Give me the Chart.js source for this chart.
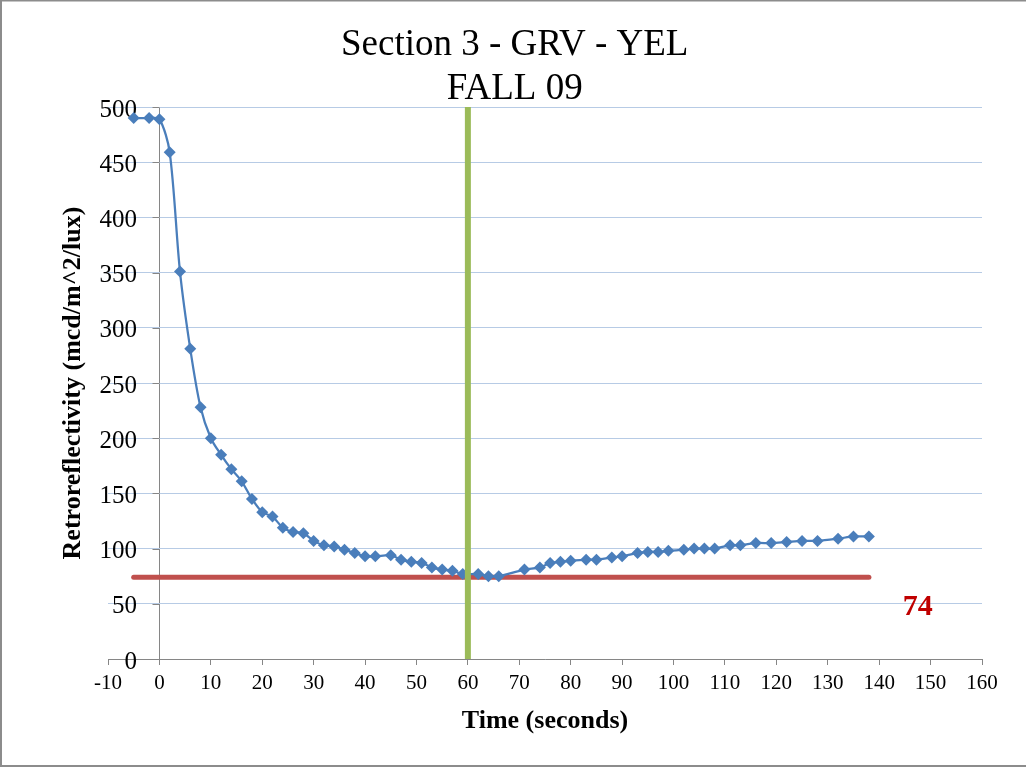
<!DOCTYPE html>
<html><head><meta charset="utf-8">
<style>html,body{margin:0;padding:0;background:#fff;overflow:hidden}#wrap{position:relative;width:1026px;height:767px}</style>
<script src="https://cdn.jsdelivr.net/npm/chart.js@4/dist/chart.umd.min.js"></script>
</head><body><div id="wrap"><canvas id="c" width="1026" height="767"></canvas></div>
<script>
const chartTitle = ['Section 3 - GRV - YEL', 'FALL 09'];
const xAxisTitle = 'Time (seconds)';
const yAxisTitle = 'Retroreflectivity (mcd/m^2/lux)';
const timeSeconds = [-5, -2, 0, 2, 4, 6, 8, 10, 12, 14, 16, 18, 20, 22, 24, 26, 28, 30, 32, 34, 36, 38, 40, 42, 45, 47, 49, 51, 53, 55, 57, 59, 62, 64, 66, 71, 74, 76, 78, 80, 83, 85, 88, 90, 93, 95, 97, 99, 102, 104, 106, 108, 111, 113, 116, 119, 122, 125, 128, 132, 135, 138];
const retroValues = [490, 490, 489, 459, 351, 281, 228, 200, 185, 172, 161, 145, 133, 129, 119, 115, 114, 107, 103, 102, 99, 96, 93, 93, 94, 90, 88, 87, 83, 81, 80, 77, 77, 75, 75, 81, 83, 87, 88, 89, 90, 90, 92, 93, 96, 97, 97, 98, 99, 100, 100, 100, 103, 103, 105, 105, 106, 107, 107, 109, 111, 111];
const thresholdValue = 74;
const thresholdTimes = [-5, 138];
const markerTime = 60;
const markerRange = [0, 500];
const thresholdLabel = '74';
const thresholdLabelPos = [147.5, 46.5];
const xRange = [-10, 160];
const xStep = 10;
const yRange = [0, 500];
const yStep = 50;

const serif = "'Liberation Serif', 'Times New Roman', serif";
const AXIS_GRAY = '#868686';

const chromePlugin = {
  id: 'chrome',
  afterLayout(chart) {
    // y tick labels sit inside the plot, right-aligned near the value axis
    const ys = chart.scales.y;
    ys.right = 137;
  },
  beforeDraw(chart) {
    const c = chart.ctx;
    c.save();
    c.fillStyle = '#fff';
    c.fillRect(0, 0, chart.width, chart.height);
    c.strokeStyle = '#8c8c8c';
    c.lineWidth = 2;
    c.beginPath();
    c.moveTo(1, 0); c.lineTo(1, 766);
    c.moveTo(0, 0.5); c.lineTo(1026, 0.5);
    c.moveTo(0, 766); c.lineTo(1026, 766);
    c.stroke();
    c.restore();
  },
  beforeDatasetsDraw(chart) {
    const c = chart.ctx, xs = chart.scales.x, ys = chart.scales.y;
    const ax = Math.round(xs.getPixelForValue(0)) + 0.5;
    c.save();
    c.strokeStyle = AXIS_GRAY;
    c.lineWidth = 1;
    c.beginPath();
    ys.ticks.forEach(t => {
      const py = Math.round(ys.getPixelForValue(t.value)) + 0.5;
      c.moveTo(ax - 7, py); c.lineTo(ax, py);
    });
    c.stroke();
    c.restore();
  },
  afterDatasetsDraw(chart) {
    const c = chart.ctx, xs = chart.scales.x, ys = chart.scales.y;
    c.save();
    c.font = "bold 30px " + serif;
    c.fillStyle = '#C00000';
    c.textAlign = 'center';
    c.textBaseline = 'middle';
    c.fillText(thresholdLabel, xs.getPixelForValue(thresholdLabelPos[0]), ys.getPixelForValue(thresholdLabelPos[1]));
    c.restore();
  }
};

new Chart(document.getElementById('c'), {
  type: 'scatter',
  data: {
    datasets: [
      {
        label: 'Marker',
        type: 'line',
        data: markerRange.map(v => ({x: markerTime, y: v})),
        borderColor: '#9BBB59',
        borderWidth: 6,
        pointRadius: 0,
        showLine: true,
        order: 0
      },
      {
        label: 'Retroreflectivity',
        type: 'line',
        data: timeSeconds.map((t, i) => ({x: t, y: retroValues[i]})),
        borderColor: '#4A7EBB',
        borderWidth: 2.25,
        backgroundColor: '#4A7EBB',
        pointStyle: 'rectRot',
        pointRadius: 6,
        pointBackgroundColor: '#4A7EBB',
        pointBorderColor: '#4A7EBB',
        pointBorderWidth: 0,
        tension: 0.3,
        showLine: true,
        order: 1
      },
      {
        label: 'Threshold',
        type: 'line',
        data: thresholdTimes.map(t => ({x: t, y: thresholdValue})),
        borderColor: '#C0504D',
        borderWidth: 5,
        borderCapStyle: 'round',
        pointRadius: 0,
        showLine: true,
        order: 2
      }
    ]
  },
  options: {
    responsive: false,
    devicePixelRatio: 1,
    animation: false,
    layout: { padding: { left: 47.4, right: 44, top: 0, bottom: 30.4 } },
    plugins: {
      legend: { display: false },
      tooltip: { enabled: false },
      title: {
        display: true,
        text: chartTitle,
        color: '#000',
        font: { family: serif, size: 37, weight: 'normal', lineHeight: 1.19 },
        padding: { top: 23, bottom: -4 }
      }
    },
    scales: {
      x: {
        type: 'linear',
        min: xRange[0], max: xRange[1],
        afterFit(s) { s.height = 77.6; },
        ticks: { stepSize: xStep, color: '#000', font: { family: serif, size: 21 }, padding: 6, maxRotation: 0 },
        grid: {
          color: ctx => (ctx.tick && ctx.tick.value === 0) ? AXIS_GRAY : 'rgba(0,0,0,0)',
          tickColor: AXIS_GRAY,
          tickLength: 6,
          lineWidth: 1
        },
        border: { display: true, color: AXIS_GRAY, width: 1 },
        title: { display: true, text: xAxisTitle, color: '#000', font: { family: serif, size: 26, weight: 'bold', lineHeight: 1.2 }, padding: 0 }
      },
      y: {
        type: 'linear',
        position: 'left',
        min: yRange[0], max: yRange[1],
        afterFit(s) { s.width = 60.6; },
        ticks: { stepSize: yStep, color: '#000', font: { family: serif, size: 25 }, padding: 0, labelOffset: 3 },
        grid: { color: '#B7CBE5', lineWidth: 1, drawTicks: false },
        border: { display: false },
        title: { display: true, text: yAxisTitle, color: '#000', font: { family: serif, size: 26, weight: 'bold', lineHeight: 1.2 }, padding: { top: 10, bottom: 0 } }
      }
    }
  },
  plugins: [chromePlugin]
});
</script></body></html>
